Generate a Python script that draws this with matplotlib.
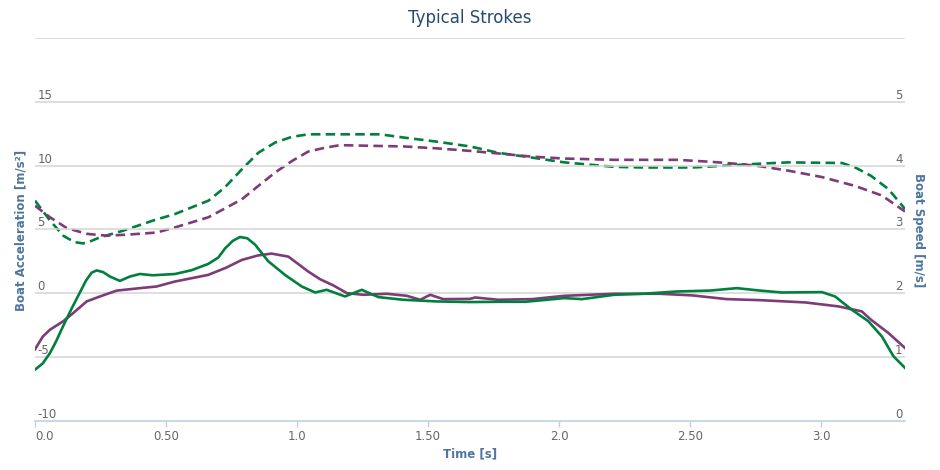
import numpy as np
import matplotlib
matplotlib.use("Agg")
import matplotlib.pyplot as plt


# DATA
# boat acceleration [m/s2], solid lines
t_acc_green = [0.0, 0.03, 0.057, 0.08, 0.107, 0.14, 0.17, 0.195, 0.216, 0.235, 0.26, 0.286, 0.324,
               0.362, 0.40, 0.45, 0.534, 0.598, 0.662, 0.70, 0.725, 0.755, 0.782, 0.81, 0.84,
               0.89, 0.954, 1.018, 1.069, 1.113, 1.183, 1.247, 1.31, 1.405, 1.533, 1.66, 1.768,
               1.87, 2.02, 2.087, 2.21, 2.32, 2.45, 2.576, 2.678, 2.767, 2.85, 3.003, 3.053,
               3.117, 3.18, 3.232, 3.276, 3.32]
acc_green = [-6.0, -5.5, -4.7, -3.8, -2.6, -1.2, 0.0, 1.0, 1.6, 1.78, 1.65, 1.3, 0.96,
             1.3, 1.5, 1.4, 1.5, 1.8, 2.3, 2.8, 3.5, 4.1, 4.4, 4.3, 3.8,
             2.5, 1.43, 0.52, 0.05, 0.26, -0.26, 0.26, -0.31, -0.52, -0.65, -0.7, -0.68,
             -0.68, -0.39, -0.47, -0.13, -0.05, 0.13, 0.2, 0.39, 0.2, 0.05, 0.08, -0.26,
             -1.3, -2.2, -3.4, -4.95, -5.86]

t_acc_purple = [0.0, 0.03, 0.057, 0.108, 0.146, 0.197, 0.248, 0.312, 0.40, 0.464, 0.534, 0.661,
                0.73, 0.789, 0.85, 0.903, 0.967, 1.043, 1.088, 1.139, 1.19, 1.253, 1.342, 1.419,
                1.47, 1.508, 1.558, 1.66, 1.68, 1.767, 1.896, 2.02, 2.21, 2.385, 2.51, 2.64,
                2.767, 2.94, 3.066, 3.155, 3.19, 3.257, 3.32]
acc_purple = [-4.4, -3.4, -2.87, -2.2, -1.56, -0.65, -0.26, 0.2, 0.39, 0.52, 0.91, 1.43,
              2.0, 2.6, 2.95, 3.1, 2.86, 1.69, 1.09, 0.6, 0.0, -0.13, -0.05, -0.21,
              -0.52, -0.13, -0.47, -0.45, -0.34, -0.52, -0.47, -0.21, -0.05, -0.05, -0.18, -0.47,
              -0.55, -0.73, -1.04, -1.43, -2.08, -3.13, -4.3]

# boat speed [m/s], dashed lines
t_spd_green = [0.0, 0.057, 0.108, 0.15, 0.184, 0.21, 0.248, 0.337, 0.452, 0.534, 0.662, 0.725,
               0.789, 0.852, 0.916, 0.98, 1.043, 1.107, 1.317, 1.406, 1.533, 1.66, 1.768, 1.896,
               2.02, 2.21, 2.32, 2.51, 2.64, 2.767, 2.875, 3.08, 3.13, 3.19, 3.257, 3.32]
spd_green = [3.45, 3.14, 2.9, 2.8, 2.78, 2.81, 2.875, 2.98, 3.14, 3.24, 3.45, 3.66,
             3.94, 4.2, 4.36, 4.45, 4.49, 4.49, 4.49, 4.44, 4.375, 4.3, 4.2, 4.125,
             4.05, 3.98, 3.97, 3.97, 4.0, 4.03, 4.05, 4.04, 3.97, 3.84, 3.63, 3.32]

t_spd_purple = [0.0, 0.057, 0.121, 0.197, 0.274, 0.363, 0.464, 0.534, 0.662, 0.789, 0.852, 0.916,
                0.98, 1.043, 1.107, 1.164, 1.279, 1.406, 1.533, 1.66, 1.768, 1.896, 2.02, 2.21,
                2.45, 2.576, 2.70, 2.767, 2.875, 3.003, 3.13, 3.232, 3.32]
spd_purple = [3.37, 3.19, 3.02, 2.93, 2.9, 2.92, 2.95, 3.03, 3.19, 3.47, 3.68, 3.89,
              4.07, 4.22, 4.28, 4.32, 4.31, 4.30, 4.27, 4.23, 4.19, 4.14, 4.11, 4.09,
              4.09, 4.06, 4.02, 3.99, 3.92, 3.82, 3.68, 3.53, 3.28]

x_ticks = [0.0, 0.5, 1.0, 1.5, 2.0, 2.5, 3.0]
x_tick_labels = ["0.0", "0.50", "1.0", "1.50", "2.0", "2.50", "3.0"]
acc_ticks = [-10, -5, 0, 5, 10, 15]
spd_ticks = [0, 1, 2, 3, 4, 5]

GREEN = "#00803c"
PURPLE = "#7d3c78"
LABEL = "#666666"
TITLE_BLUE = "#4d759e"

fig = plt.figure(figsize=(9.4, 4.7), dpi=100)
W, H = 940, 470
ax = fig.add_axes([35 / W, 1 - 420.7 / H, (905 - 35) / W, (420.7 - 38) / H])
ax2 = ax.twinx()

ax.set_xlim(0, 3.32)
ax.set_ylim(-10, 20)
ax2.set_ylim(0, 6)

# grid lines (left axis)
for v in [-5, 0, 5, 10, 15, 20]:
    ax.axhline(v, color="#d4d4d4", lw=1.1, zorder=0)

for a in (ax, ax2):
    for s in a.spines.values():
        s.set_visible(False)
    a.set_yticks([])
ax.spines["bottom"].set_visible(True)
ax.spines["bottom"].set_color("#c0d0e0")
ax.spines["bottom"].set_linewidth(1.2)

ax.set_xticks(x_ticks)
ax.set_xticklabels(x_tick_labels)
ax.tick_params(axis="x", colors="#c0d0e0", length=4, width=1, labelcolor=LABEL, labelsize=8.5, pad=3)
ax.get_xticklabels()[0].set_ha("left")

# y labels drawn inside the plot, above the grid line
for v in acc_ticks:
    ax.text(0.003, v, str(v), transform=ax.get_yaxis_transform(), ha="left", va="bottom",
            color=LABEL, fontsize=8.5)
for v in spd_ticks:
    ax2.text(0.997, v, str(v), transform=ax2.get_yaxis_transform(), ha="right", va="bottom",
             color=LABEL, fontsize=8.5)

# lines
ax2.plot(t_spd_green, spd_green, color=GREEN, lw=1.9, dashes=(3.6, 2.0))
ax2.plot(t_spd_purple, spd_purple, color=PURPLE, lw=1.9, dashes=(3.6, 2.0))
ax.plot(t_acc_purple, acc_purple, color=PURPLE, lw=1.9)
ax.plot(t_acc_green, acc_green, color=GREEN, lw=1.9)
ax.set_zorder(ax2.get_zorder() + 1)
ax.patch.set_visible(False)

ax.set_xlabel("Time [s]", color=TITLE_BLUE, fontsize=8.5, fontweight="bold", labelpad=3)
fig.text(21 / W, 1 - 230 / H, "Boat Acceleration [m/s²]", rotation=90, ha="center", va="center",
         color=TITLE_BLUE, fontsize=8.5, fontweight="bold")
fig.text(918 / W, 1 - 230 / H, "Boat Speed [m/s]", rotation=270, ha="center", va="center",
         color=TITLE_BLUE, fontsize=8.5, fontweight="bold")
fig.text(470 / W, 1 - 18 / H, "Typical Strokes", ha="center", va="center", color="#274b6d", fontsize=12)

fig.savefig("out.png", dpi=100)
